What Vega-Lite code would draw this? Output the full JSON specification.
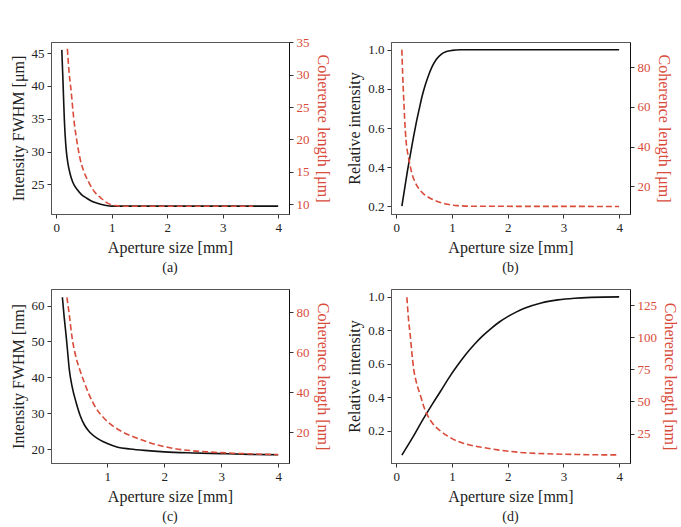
{
  "$schema": "https://vega.github.io/schema/vega-lite/v6.json",
  "padding": {"left": 9, "top": 35, "right": 5, "bottom": 5},
  "background": "white",
  "columns": 2,
  "spacing": {"row": 75, "column": 102},
  "bounds": "flush",
  "datasets": {
    "a_int": [
      {"aperture": 0.1, "value": 45.5}, {"aperture": 0.11, "value": 43.2}, {"aperture": 0.12, "value": 41.0},
      {"aperture": 0.13, "value": 38.5}, {"aperture": 0.145, "value": 35.0}, {"aperture": 0.16, "value": 32.5},
      {"aperture": 0.18, "value": 30.2}, {"aperture": 0.21, "value": 28.2}, {"aperture": 0.25, "value": 26.6},
      {"aperture": 0.3, "value": 25.3}, {"aperture": 0.37, "value": 24.3}, {"aperture": 0.45, "value": 23.5},
      {"aperture": 0.55, "value": 22.9}, {"aperture": 0.65, "value": 22.4}, {"aperture": 0.8, "value": 22.0},
      {"aperture": 0.9, "value": 21.8}, {"aperture": 1.0, "value": 21.7}, {"aperture": 2.0, "value": 21.7},
      {"aperture": 3.0, "value": 21.7}, {"aperture": 4.0, "value": 21.7}
    ],
    "a_coh": [
      {"aperture": 0.2, "value": 34.0}, {"aperture": 0.23, "value": 30.5}, {"aperture": 0.27, "value": 27.3},
      {"aperture": 0.3, "value": 24.5}, {"aperture": 0.33, "value": 22.2}, {"aperture": 0.38, "value": 19.3},
      {"aperture": 0.43, "value": 17.0}, {"aperture": 0.5, "value": 15.0}, {"aperture": 0.58, "value": 13.5},
      {"aperture": 0.7, "value": 11.8}, {"aperture": 0.8, "value": 11.0}, {"aperture": 0.94, "value": 10.1},
      {"aperture": 1.05, "value": 9.8}, {"aperture": 1.2, "value": 9.7}, {"aperture": 2.0, "value": 9.7},
      {"aperture": 3.55, "value": 9.7}
    ],
    "b_int": [
      {"aperture": 0.1, "value": 0.2}, {"aperture": 0.15, "value": 0.29}, {"aperture": 0.2, "value": 0.38},
      {"aperture": 0.25, "value": 0.46}, {"aperture": 0.3, "value": 0.54}, {"aperture": 0.35, "value": 0.615},
      {"aperture": 0.41, "value": 0.695}, {"aperture": 0.47, "value": 0.77}, {"aperture": 0.52, "value": 0.82},
      {"aperture": 0.58, "value": 0.87}, {"aperture": 0.645, "value": 0.915}, {"aperture": 0.72, "value": 0.952},
      {"aperture": 0.8, "value": 0.976}, {"aperture": 0.9, "value": 0.991}, {"aperture": 1.0, "value": 0.997},
      {"aperture": 1.15, "value": 1.0}, {"aperture": 4.0, "value": 1.0}
    ],
    "b_coh": [
      {"aperture": 0.1, "value": 88.7}, {"aperture": 0.115, "value": 76.0}, {"aperture": 0.13, "value": 66.0},
      {"aperture": 0.15, "value": 54.0}, {"aperture": 0.175, "value": 43.0}, {"aperture": 0.2, "value": 37.5},
      {"aperture": 0.23, "value": 33.0}, {"aperture": 0.28, "value": 26.5}, {"aperture": 0.34, "value": 22.0},
      {"aperture": 0.4, "value": 19.0}, {"aperture": 0.5, "value": 16.0}, {"aperture": 0.61, "value": 14.0},
      {"aperture": 0.75, "value": 12.3}, {"aperture": 0.92, "value": 11.0}, {"aperture": 1.1, "value": 10.3},
      {"aperture": 1.4, "value": 10.0}, {"aperture": 4.0, "value": 9.9}
    ],
    "c_int": [
      {"aperture": 0.21, "value": 62.3}, {"aperture": 0.24, "value": 57.0}, {"aperture": 0.275, "value": 51.7},
      {"aperture": 0.3, "value": 47.5}, {"aperture": 0.33, "value": 42.4}, {"aperture": 0.38, "value": 37.5},
      {"aperture": 0.45, "value": 33.1}, {"aperture": 0.52, "value": 29.5}, {"aperture": 0.6, "value": 26.7},
      {"aperture": 0.7, "value": 24.6}, {"aperture": 0.83, "value": 23.0}, {"aperture": 1.0, "value": 21.6},
      {"aperture": 1.18, "value": 20.6}, {"aperture": 1.4, "value": 20.1}, {"aperture": 1.65, "value": 19.7},
      {"aperture": 2.0, "value": 19.3}, {"aperture": 2.5, "value": 19.0}, {"aperture": 3.0, "value": 18.8},
      {"aperture": 3.5, "value": 18.6}, {"aperture": 4.0, "value": 18.5}
    ],
    "c_coh": [
      {"aperture": 0.29, "value": 87.5}, {"aperture": 0.33, "value": 79.0}, {"aperture": 0.375, "value": 68.4},
      {"aperture": 0.44, "value": 58.5}, {"aperture": 0.51, "value": 51.7}, {"aperture": 0.6, "value": 44.5},
      {"aperture": 0.685, "value": 38.4}, {"aperture": 0.8, "value": 32.0}, {"aperture": 0.95, "value": 26.7},
      {"aperture": 1.1, "value": 23.0}, {"aperture": 1.27, "value": 20.0}, {"aperture": 1.5, "value": 17.2},
      {"aperture": 1.71, "value": 15.0}, {"aperture": 2.12, "value": 12.0}, {"aperture": 2.5, "value": 10.6},
      {"aperture": 2.8, "value": 10.0}, {"aperture": 3.2, "value": 9.4}, {"aperture": 3.6, "value": 9.0},
      {"aperture": 4.0, "value": 8.7}
    ],
    "d_int": [
      {"aperture": 0.1, "value": 0.056}, {"aperture": 0.3, "value": 0.165}, {"aperture": 0.49, "value": 0.275},
      {"aperture": 0.65, "value": 0.362}, {"aperture": 0.8, "value": 0.44}, {"aperture": 0.95, "value": 0.52},
      {"aperture": 1.1, "value": 0.592}, {"aperture": 1.25, "value": 0.658}, {"aperture": 1.4, "value": 0.716},
      {"aperture": 1.55, "value": 0.767}, {"aperture": 1.71, "value": 0.814}, {"aperture": 1.85, "value": 0.85},
      {"aperture": 2.0, "value": 0.882}, {"aperture": 2.15, "value": 0.909}, {"aperture": 2.3, "value": 0.932},
      {"aperture": 2.6, "value": 0.964}, {"aperture": 2.9, "value": 0.982}, {"aperture": 3.2, "value": 0.992},
      {"aperture": 3.5, "value": 0.997}, {"aperture": 4.0, "value": 1.0}
    ],
    "d_coh": [
      {"aperture": 0.19, "value": 131.4}, {"aperture": 0.22, "value": 114.0}, {"aperture": 0.25, "value": 101.7},
      {"aperture": 0.28, "value": 88.0}, {"aperture": 0.31, "value": 76.0}, {"aperture": 0.36, "value": 65.0},
      {"aperture": 0.43, "value": 55.2}, {"aperture": 0.49, "value": 46.5}, {"aperture": 0.555, "value": 39.7},
      {"aperture": 0.65, "value": 33.0}, {"aperture": 0.8, "value": 26.8}, {"aperture": 0.95, "value": 22.3},
      {"aperture": 1.1, "value": 19.0}, {"aperture": 1.3, "value": 16.3}, {"aperture": 1.58, "value": 13.9},
      {"aperture": 1.9, "value": 11.8}, {"aperture": 2.3, "value": 10.0}, {"aperture": 2.7, "value": 9.2},
      {"aperture": 3.2, "value": 8.7}, {"aperture": 3.6, "value": 8.4}, {"aperture": 4.0, "value": 8.3}
    ]
  },
  "concat": [
    {
      "width": 238, "height": 172,
      "title": {"text": "(a)"},
      "layer": [
        {
          "data": {"name": "a_int"},
          "mark": {"type": "line", "color": "#111111", "strokeWidth": 1.6, "interpolate": "monotone"},
          "encoding": {
            "x": {"field": "aperture", "type": "quantitative", "title": "Aperture size [mm]",
                  "scale": {"domain": [-0.095, 4.195], "nice": false, "zero": false},
                  "axis": {"values": [0, 1, 2, 3, 4], "format": "d"}},
            "y": {"field": "value", "type": "quantitative", "title": "Intensity FWHM [μm]",
                  "scale": {"domain": [20.5, 46.7], "nice": false, "zero": false},
                  "axis": {"values": [25, 30, 35, 40, 45]}}
          }
        },
        {
          "data": {"name": "a_coh"},
          "mark": {"type": "line", "color": "#d94b3a", "strokeWidth": 1.6, "strokeDash": [6, 3], "interpolate": "monotone"},
          "encoding": {
            "x": {"field": "aperture", "type": "quantitative"},
            "y": {"field": "value", "type": "quantitative", "title": "Coherence length [μm]",
                  "scale": {"domain": [8.5, 35.05], "nice": false, "zero": false},
                  "axis": {"orient": "right", "values": [10, 15, 20, 25, 30, 35], "labelColor": "#d94b3a", "titleColor": "#d94b3a", "domainColor": "#111111"}}
          }
        }
      ],
      "resolve": {"scale": {"y": "independent"}, "axis": {"y": "independent"}}
    },
    {
      "width": 239, "height": 172,
      "title": {"text": "(b)"},
      "layer": [
        {
          "data": {"name": "b_int"},
          "mark": {"type": "line", "color": "#111111", "strokeWidth": 1.6, "interpolate": "monotone"},
          "encoding": {
            "x": {"field": "aperture", "type": "quantitative", "title": "Aperture size [mm]",
                  "scale": {"domain": [-0.095, 4.195], "nice": false, "zero": false},
                  "axis": {"values": [0, 1, 2, 3, 4], "format": "d"}},
            "y": {"field": "value", "type": "quantitative", "title": "Relative intensity",
                  "scale": {"domain": [0.16, 1.04], "nice": false, "zero": false},
                  "axis": {"values": [0.2, 0.4, 0.6, 0.8, 1.0], "format": ".1f"}}
          }
        },
        {
          "data": {"name": "b_coh"},
          "mark": {"type": "line", "color": "#d94b3a", "strokeWidth": 1.6, "strokeDash": [6, 3], "interpolate": "monotone"},
          "encoding": {
            "x": {"field": "aperture", "type": "quantitative"},
            "y": {"field": "value", "type": "quantitative", "title": "Coherence length [μm]",
                  "scale": {"domain": [6.1, 92.6], "nice": false, "zero": false},
                  "axis": {"orient": "right", "values": [20, 40, 60, 80], "labelColor": "#d94b3a", "titleColor": "#d94b3a", "domainColor": "#111111"}}
          }
        }
      ],
      "resolve": {"scale": {"y": "independent"}, "axis": {"y": "independent"}}
    },
    {
      "width": 238, "height": 174,
      "title": {"text": "(c)"},
      "layer": [
        {
          "data": {"name": "c_int"},
          "mark": {"type": "line", "color": "#111111", "strokeWidth": 1.6, "interpolate": "monotone"},
          "encoding": {
            "x": {"field": "aperture", "type": "quantitative", "title": "Aperture size [mm]",
                  "scale": {"domain": [0.01, 4.19], "nice": false, "zero": false},
                  "axis": {"values": [1, 2, 3, 4], "format": "d"}},
            "y": {"field": "value", "type": "quantitative", "title": "Intensity FWHM [nm]",
                  "scale": {"domain": [16.2, 64.6], "nice": false, "zero": false},
                  "axis": {"values": [20, 30, 40, 50, 60]}}
          }
        },
        {
          "data": {"name": "c_coh"},
          "mark": {"type": "line", "color": "#d94b3a", "strokeWidth": 1.6, "strokeDash": [6, 3], "interpolate": "monotone"},
          "encoding": {
            "x": {"field": "aperture", "type": "quantitative"},
            "y": {"field": "value", "type": "quantitative", "title": "Coherence length [nm]",
                  "scale": {"domain": [4.5, 91.7], "nice": false, "zero": false},
                  "axis": {"orient": "right", "values": [20, 40, 60, 80], "labelColor": "#d94b3a", "titleColor": "#d94b3a", "domainColor": "#111111"}}
          }
        }
      ],
      "resolve": {"scale": {"y": "independent"}, "axis": {"y": "independent"}}
    },
    {
      "width": 239, "height": 174,
      "title": {"text": "(d)"},
      "layer": [
        {
          "data": {"name": "d_int"},
          "mark": {"type": "line", "color": "#111111", "strokeWidth": 1.6, "interpolate": "monotone"},
          "encoding": {
            "x": {"field": "aperture", "type": "quantitative", "title": "Aperture size [mm]",
                  "scale": {"domain": [-0.095, 4.195], "nice": false, "zero": false},
                  "axis": {"values": [0, 1, 2, 3, 4], "format": "d"}},
            "y": {"field": "value", "type": "quantitative", "title": "Relative intensity",
                  "scale": {"domain": [0.009, 1.047], "nice": false, "zero": false},
                  "axis": {"values": [0.2, 0.4, 0.6, 0.8, 1.0], "format": ".1f"}}
          }
        },
        {
          "data": {"name": "d_coh"},
          "mark": {"type": "line", "color": "#d94b3a", "strokeWidth": 1.6, "strokeDash": [6, 3], "interpolate": "monotone"},
          "encoding": {
            "x": {"field": "aperture", "type": "quantitative"},
            "y": {"field": "value", "type": "quantitative", "title": "Coherence length [nm]",
                  "scale": {"domain": [2.0, 137.8], "nice": false, "zero": false},
                  "axis": {"orient": "right", "values": [25, 50, 75, 100, 125], "labelColor": "#d94b3a", "titleColor": "#d94b3a", "domainColor": "#111111"}}
          }
        }
      ],
      "resolve": {"scale": {"y": "independent"}, "axis": {"y": "independent"}}
    }
  ],
  "config": {
    "font": "Liberation Serif",
    "view": {"stroke": "#555555", "strokeWidth": 1},
    "axis": {
      "grid": false,
      "labelFont": "Liberation Serif", "labelFontSize": 13, "labelColor": "#222222",
      "titleFont": "Liberation Serif", "titleFontSize": 16, "titleFontWeight": "normal", "titleColor": "#222222",
      "tickColor": "#333333", "tickSize": 4, "domainColor": "#555555",
      "labelPadding": 3, "titlePadding": 5
    },
    "title": {"font": "Liberation Serif", "fontSize": 14, "fontWeight": "normal", "orient": "bottom", "offset": 6, "anchor": "middle", "color": "#222222"}
  }
}
